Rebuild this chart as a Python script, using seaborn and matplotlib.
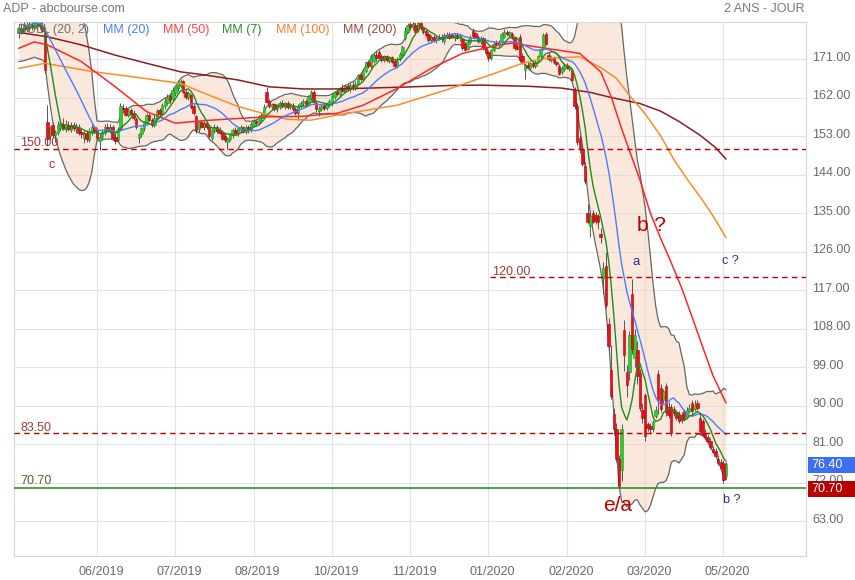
import numpy as np
import pandas as pd
import matplotlib
matplotlib.use("Agg")
import matplotlib.pyplot as plt
import matplotlib.transforms as mtransforms
from matplotlib.patches import Rectangle
import seaborn as sns

# ---------------- data (daily candles) ----------------
opens = [
    177.0, 178.0, 177.5, 179.0, 178.2, 179.0, 178.3, 179.0, 179.3, 178.4,
    177.5, 156.3, 153.0, 155.6, 153.2, 153.8, 154.8, 155.8, 154.6, 155.6,
    154.5, 155.6, 154.6, 155.0, 154.0, 152.6, 153.6, 152.0, 153.8, 155.0,
    154.4, 151.8, 152.8, 153.8, 155.2, 154.2, 155.0, 152.8, 152.0, 154.6,
    159.6, 159.5, 158.0, 159.0, 158.4, 157.0, 152.6, 153.4, 154.8, 156.0,
    157.8, 156.8, 155.6, 157.2, 159.0, 158.2, 160.0, 160.8, 162.4, 161.6,
    163.0, 164.2, 164.8, 165.8, 163.4, 162.0, 162.6, 160.0, 157.6, 154.6,
    156.2, 155.0, 156.0, 155.0, 152.6, 154.2, 155.2, 154.4, 154.0, 153.0,
    151.6, 152.4, 153.2, 154.4, 153.6, 154.4, 155.0, 154.0, 155.0, 154.4,
    155.6, 156.6, 156.0, 157.2, 158.0, 163.2, 161.2, 159.8, 160.4, 159.2,
    159.8, 160.8, 159.8, 160.6, 159.8, 160.2, 159.4, 158.4, 160.0, 160.6,
    161.2, 160.6, 162.0, 163.2, 160.8, 158.8, 159.4, 160.2, 159.6, 160.4,
    160.6, 162.2, 163.4, 162.8, 164.2, 163.6, 164.6, 164.0, 165.0, 164.2,
    165.4, 167.2, 166.4, 168.2, 170.2, 169.4, 170.6, 172.0, 172.6, 171.6,
    170.8, 171.6, 170.6, 171.4, 170.6, 169.4, 171.0, 172.0, 175.8, 177.4,
    179.2, 178.4, 179.0, 177.8, 179.4, 178.4, 177.6, 176.8, 175.4, 176.2,
    175.4, 176.2, 176.2, 175.2, 176.6, 176.8, 176.6, 175.8, 176.6, 175.8,
    175.6, 174.6, 173.4, 175.0, 177.6, 177.0, 176.2, 175.0, 175.8, 173.6,
    172.6, 171.2, 173.0, 174.8, 174.4, 175.2, 176.2, 177.4, 176.6, 176.8,
    175.8, 174.0, 176.2, 171.8, 168.4, 169.6, 169.0, 170.0, 169.4, 170.4,
    171.6, 173.4, 176.8, 172.0, 170.8, 171.2, 170.2, 169.4, 168.0, 168.6,
    169.6, 168.6, 168.4, 163.8, 160.0, 152.6, 150.0, 146.0, 135.0, 132.0,
    135.0, 134.6, 134.4, 130.0, 119.8, 122.5, 109.0, 98.2, 88.0, 84.4,
    77.4, 75.0, 107.6, 97.8, 97.8, 116.0, 101.0, 103.0, 97.5, 89.0,
    92.4, 85.6, 85.2, 84.4, 87.6, 97.4, 94.0, 91.4, 94.6, 89.6,
    89.6, 89.3, 88.4, 88.0, 87.8, 88.6, 87.4, 88.6, 90.5, 89.2,
    90.6, 87.1, 86.3, 83.6, 82.6, 81.7, 79.8, 79.4, 77.6, 76.8, 76.6, 73.5,
]
highs = [
    178.8, 179.5, 179.6, 179.6, 179.6, 179.6, 179.6, 179.6, 179.6, 179.6,
    178.5, 160.2, 155.4, 156.2, 154.5, 156.6, 157.0, 157.2, 156.8, 156.4,
    156.2, 156.3, 156.0, 155.8, 154.6, 154.2, 154.4, 154.8, 155.8, 155.6,
    154.8, 153.4, 154.6, 155.8, 156.0, 155.8, 155.6, 153.6, 155.0, 160.6,
    160.4, 160.0, 159.6, 159.6, 159.0, 157.4, 153.8, 155.2, 156.6, 158.4,
    158.4, 157.2, 157.8, 159.4, 159.6, 160.6, 161.8, 162.8, 163.0, 164.4,
    165.0, 166.0, 166.4, 166.2, 164.0, 163.6, 162.8, 160.6, 158.0, 156.6,
    156.8, 156.6, 156.4, 155.4, 154.8, 155.8, 155.6, 155.0, 154.4, 153.6,
    152.8, 153.8, 154.8, 155.0, 155.4, 155.6, 155.4, 155.6, 155.6, 156.2,
    157.0, 157.0, 157.8, 158.4, 160.4, 164.4, 161.6, 160.8, 160.8, 160.4,
    161.2, 161.4, 161.0, 161.2, 160.8, 160.6, 159.8, 160.4, 161.2, 161.6,
    161.6, 162.6, 163.8, 163.8, 161.2, 160.0, 160.4, 160.6, 161.0, 161.6,
    163.0, 163.6, 164.0, 164.4, 165.2, 165.0, 165.4, 165.4, 165.8, 165.8,
    167.6, 167.8, 168.8, 170.6, 170.8, 172.2, 172.4, 172.8, 173.2, 172.2,
    172.0, 172.0, 171.8, 171.8, 171.0, 171.4, 172.6, 174.2, 178.4, 179.4,
    179.6, 179.6, 179.4, 179.7, 179.7, 178.8, 178.0, 177.4, 176.6, 176.6,
    176.6, 176.8, 176.8, 177.0, 177.2, 177.2, 177.0, 177.0, 177.0, 176.8,
    176.0, 175.0, 175.6, 176.6, 178.2, 177.4, 176.6, 176.4, 176.2, 174.0,
    173.0, 173.4, 175.0, 175.4, 175.4, 177.2, 178.0, 177.8, 177.6, 177.2,
    176.2, 174.4, 176.8, 172.4, 170.0, 170.2, 170.4, 170.4, 170.8, 172.0,
    173.6, 177.0, 177.2, 172.6, 171.8, 171.6, 170.6, 169.8, 169.4, 170.0,
    170.0, 169.6, 168.8, 164.4, 160.6, 153.2, 151.0, 147.0, 137.2, 135.4,
    135.6, 135.2, 134.8, 131.4, 123.5, 126.0, 110.5, 104.1, 89.5, 86.0,
    78.4, 85.6, 110.0, 99.5, 107.5, 119.5, 108.0, 105.0, 98.6, 90.5,
    93.0, 86.2, 85.8, 86.6, 89.8, 98.2, 95.0, 93.8, 95.2, 90.8,
    90.4, 90.0, 89.0, 88.6, 88.4, 89.2, 89.6, 90.4, 91.4, 91.2,
    91.2, 88.0, 86.8, 84.4, 83.2, 82.4, 80.6, 80.0, 78.4, 77.4, 77.2, 76.8,
]
lows = [
    175.8, 176.9, 177.0, 177.4, 177.6, 177.8, 177.9, 178.0, 178.1, 177.2,
    167.8, 150.6, 152.0, 152.6, 151.5, 153.2, 154.2, 154.4, 154.0, 154.2,
    154.0, 154.2, 153.8, 153.2, 152.6, 151.4, 151.6, 151.6, 153.2, 153.8,
    152.0, 149.7, 152.0, 153.2, 154.0, 153.6, 152.0, 151.2, 151.6, 154.2,
    158.6, 157.6, 157.4, 157.8, 156.8, 154.6, 151.3, 152.8, 154.2, 155.6,
    156.4, 155.2, 155.0, 156.8, 157.6, 157.8, 159.4, 160.2, 160.8, 161.0,
    162.4, 163.6, 164.2, 163.0, 161.6, 161.4, 159.4, 158.0, 153.8, 154.0,
    154.8, 154.4, 154.6, 152.6, 152.0, 153.6, 153.8, 153.4, 152.0, 151.6,
    150.0, 151.8, 152.6, 153.2, 153.0, 153.8, 153.6, 153.4, 153.8, 154.0,
    155.0, 155.6, 155.6, 156.6, 157.6, 160.6, 159.6, 159.0, 158.8, 158.6,
    159.4, 159.6, 159.2, 159.4, 159.2, 158.8, 157.8, 156.8, 159.6, 160.0,
    160.0, 160.2, 161.4, 160.6, 158.6, 157.6, 158.8, 159.0, 159.0, 159.8,
    160.0, 161.6, 162.4, 162.2, 163.2, 163.0, 163.6, 163.4, 163.8, 163.8,
    165.0, 165.8, 166.0, 167.8, 168.8, 169.0, 170.0, 170.6, 171.0, 170.4,
    170.2, 170.4, 170.0, 170.0, 168.8, 169.0, 170.6, 171.6, 175.4, 177.0,
    177.8, 177.8, 177.0, 177.4, 177.8, 176.8, 176.2, 175.0, 174.8, 175.0,
    174.8, 175.4, 175.0, 174.6, 175.8, 175.6, 175.8, 175.2, 175.6, 175.2,
    173.0, 172.8, 173.0, 174.6, 176.0, 175.8, 174.8, 174.6, 173.2, 172.0,
    170.6, 170.8, 172.6, 174.0, 173.8, 174.8, 175.8, 176.4, 176.0, 175.6,
    173.2, 173.0, 170.4, 169.8, 166.4, 168.8, 168.4, 168.8, 169.0, 170.0,
    171.2, 173.0, 174.2, 170.6, 170.4, 169.8, 169.4, 167.2, 167.6, 168.2,
    168.6, 168.2, 165.8, 159.4, 151.0, 149.0, 146.0, 141.8, 132.4, 129.4,
    132.6, 132.4, 131.2, 128.0, 116.0, 112.8, 103.0, 91.5, 83.0, 76.8,
    70.7, 72.4, 98.0, 92.0, 96.0, 102.0, 99.0, 95.0, 88.6, 86.0,
    81.8, 84.0, 83.6, 83.8, 87.0, 88.0, 88.4, 90.6, 87.6, 87.0,
    82.8, 87.6, 86.6, 85.8, 86.0, 86.4, 87.0, 88.2, 88.0, 88.8,
    89.0, 83.6, 82.8, 82.2, 81.2, 79.8, 78.8, 77.8, 76.2, 75.0, 71.9, 72.8,
]
closes = [
    178.2, 177.3, 179.2, 178.0, 179.0, 178.4, 179.3, 179.4, 178.6, 177.6,
    168.4, 152.4, 154.8, 153.2, 154.0, 155.6, 156.0, 154.9, 155.8, 154.6,
    155.5, 154.8, 155.2, 153.8, 153.4, 153.6, 152.2, 154.2, 155.0, 154.2,
    152.6, 152.8, 154.0, 155.2, 154.4, 155.0, 152.6, 151.8, 154.6, 160.0,
    159.2, 158.0, 159.0, 158.2, 157.2, 155.0, 153.4, 154.8, 156.2, 157.8,
    156.8, 155.6, 157.2, 158.8, 158.2, 160.2, 161.2, 162.2, 161.4, 163.8,
    164.6, 165.4, 165.8, 163.4, 162.2, 163.0, 159.8, 158.4, 154.4, 156.2,
    155.2, 156.0, 155.0, 153.0, 154.4, 155.2, 154.2, 153.8, 152.4, 152.0,
    152.6, 153.4, 154.4, 153.6, 154.8, 155.2, 154.0, 155.0, 154.4, 155.8,
    156.6, 156.0, 157.4, 158.0, 159.8, 161.0, 160.0, 160.4, 159.2, 160.0,
    160.8, 160.0, 160.6, 159.8, 160.4, 159.2, 158.4, 160.0, 160.8, 161.2,
    160.4, 162.2, 163.2, 161.0, 159.2, 159.6, 160.0, 159.6, 160.6, 161.2,
    162.4, 163.2, 162.8, 164.0, 163.6, 164.6, 164.0, 165.0, 164.2, 165.2,
    167.2, 166.4, 168.4, 170.2, 169.4, 171.6, 172.0, 171.2, 171.4, 170.8,
    171.6, 170.8, 171.4, 170.4, 169.4, 171.0, 172.2, 173.8, 177.6, 179.0,
    178.4, 179.2, 177.4, 179.5, 178.2, 177.2, 176.6, 175.4, 176.2, 175.4,
    176.0, 175.8, 175.6, 176.6, 176.2, 176.0, 176.2, 176.6, 176.0, 176.4,
    173.6, 173.2, 175.0, 176.2, 176.4, 176.2, 175.2, 175.8, 173.6, 172.4,
    171.2, 173.0, 174.6, 174.4, 175.0, 176.8, 177.4, 176.8, 177.2, 175.9,
    173.6, 173.4, 170.8, 170.4, 169.6, 169.2, 170.0, 169.4, 170.4, 171.6,
    173.4, 176.6, 174.6, 171.0, 171.2, 170.2, 169.8, 167.6, 168.8, 169.6,
    169.0, 169.2, 166.1, 160.0, 151.6, 150.0, 146.5, 142.5, 133.0, 134.3,
    133.0, 133.2, 132.8, 129.4, 122.1, 113.5, 104.0, 92.3, 84.4, 77.4,
    71.2, 84.4, 101.8, 94.7, 106.5, 103.3, 106.5, 97.0, 89.4, 87.0,
    82.8, 84.8, 84.4, 86.2, 89.0, 91.3, 89.2, 93.4, 88.4, 87.8,
    83.6, 88.2, 87.0, 86.3, 86.6, 87.0, 89.0, 89.4, 88.6, 90.2,
    89.4, 84.0, 83.2, 82.6, 81.7, 80.2, 79.2, 78.2, 76.6, 75.5, 72.7, 76.4,
]

# indicator values visible before a full 20-day window exists
mm20_head = [177.0, 177.6, 178.2, 178.6, 179.0, 179.2, 179.4, 179.4, 179.3, 179.0,
             178.0, 176.8, 175.6, 174.4, 173.2, 172.0, 170.8, 169.6, 168.4]
boll_lo_head = [170.4, 170.5, 170.6, 170.8, 171.0, 171.2, 171.4, 171.2, 171.0, 170.8,
                170.2, 165.0, 160.5, 156.5, 153.0, 150.5, 148.4, 146.8, 145.2]
boll_up_head = [183.6, 184.7, 185.8, 186.4, 187.0, 187.2, 187.4, 187.6, 187.6, 187.2,
                185.8, 188.6, 190.7, 192.3, 193.4, 193.5, 193.2, 192.4, 191.6]

# long moving averages (bar index, value)
mm50_idx = [0, 6, 11, 24, 37, 49, 60, 71, 84, 96, 109, 122, 132, 145, 158, 170, 184, 189,
            202, 215, 223, 227, 231, 238, 242, 246, 250, 254, 258, 262, 266, 271]
mm50_val = [173.5, 175.0, 174.3, 170.4, 164.5, 158.7, 156.0, 156.6, 157.1, 157.5, 157.6,
            158.3, 160.2, 164.1, 168.8, 172.3, 174.3, 174.7, 173.5, 172.3, 168.0, 162.2,
            154.7, 142.8, 135.0, 129.0, 123.4, 117.5, 110.7, 103.8, 97.0, 90.6]
mm100_idx = [0, 10, 29, 43, 62, 71, 84, 96, 103, 112, 122, 145, 164, 184, 193, 202, 215,
             223, 229, 234, 240, 246, 251, 256, 262, 267, 271]
mm100_val = [168.8, 170.0, 168.0, 166.9, 165.3, 163.0, 159.9, 157.9, 156.9, 156.7, 157.9,
             160.2, 163.8, 168.0, 170.0, 171.2, 171.5, 169.0, 166.5, 162.5, 158.2, 153.0,
             147.5, 143.0, 138.0, 133.4, 129.2]
mm200_idx = [0, 11, 24, 37, 49, 62, 71, 84, 96, 109, 122, 146, 165, 177, 196, 208, 219,
             227, 238, 246, 253, 261, 267, 271]
mm200_val = [177.2, 176.2, 174.3, 171.9, 170.0, 168.0, 167.3, 166.1, 164.5, 164.0, 164.0,
             164.4, 164.8, 164.9, 164.6, 164.2, 163.2, 162.0, 160.6, 158.8, 156.4, 153.2,
             150.3, 147.6]

tick_idx = [30, 60, 90, 120, 150, 180, 210, 240, 270]
tick_labels = ["06/2019", "07/2019", "08/2019", "10/2019", "11/2019",
               "01/2020", "02/2020", "03/2020", "05/2020"]
y_ticks = [63, 72, 81, 90, 99, 108, 117, 126, 135, 144, 153, 162, 171]
dashed_levels = [150.0, 120.0, 83.5]
dashed_labels = ["150.00", "120.00", "83.50"]
support_level = 70.70
last_price = 76.40

# ---------------- style ----------------
sns.set_style("white")
plt.rcParams["font.family"] = ["Liberation Sans", "DejaVu Sans"]

W, H = 855, 580
L, R, T, B = 14, 806, 22, 556
fig = plt.figure(figsize=(W / 100, H / 100), dpi=100)
ax = fig.add_axes([L / W, 1 - B / H, (R - L) / W, (B - T) / H])
XMIN, XMAX = -1.8, 301.65
YMIN, YMAX = 54.82, 179.65
ax.set_xlim(XMIN, XMAX)
ax.set_ylim(YMIN, YMAX)

idx = np.arange(len(closes))
s = pd.Series(closes, dtype=float)
mm7 = s.rolling(7, min_periods=1).mean().to_numpy()
mm20 = s.rolling(20).mean().to_numpy()
sd20 = s.rolling(20).std(ddof=0).to_numpy()
up_b = mm20 + 2 * sd20
lo_b = mm20 - 2 * sd20
nh = len(mm20_head)
mm20[:nh] = mm20_head
up_b[:nh] = boll_up_head
lo_b[:nh] = boll_lo_head

# Bollinger band
ax.fill_between(idx, lo_b, up_b, color="#f8d3bd", alpha=0.5, lw=0, zorder=1)
ax.plot(idx, up_b, color="#666666", lw=0.9, zorder=2)
ax.plot(idx, lo_b, color="#666666", lw=0.9, zorder=2)

# candles
o = np.array(opens); h = np.array(highs); l = np.array(lows); c = np.array(closes)
up = c >= o
ax.vlines(idx, l, h, colors="#555555", lw=0.7, zorder=3)
bb = np.minimum(o, c)
bh = np.maximum(np.abs(c - o), 0.3)
ax.bar(idx[up], bh[up], bottom=bb[up], width=0.95, color="#2fcc2f",
       edgecolor="#1f931f", lw=0.4, zorder=3.5)
ax.bar(idx[~up], bh[~up], bottom=bb[~up], width=0.95, color="#e5121c",
       edgecolor="#b00000", lw=0.4, zorder=3.5)

# moving averages
sns.lineplot(x=mm200_idx, y=mm200_val, ax=ax, color="#8b1e1e", lw=1.1, zorder=4)
sns.lineplot(x=mm100_idx, y=mm100_val, ax=ax, color="#ff8a2a", lw=1.1, zorder=4)
sns.lineplot(x=mm50_idx, y=mm50_val, ax=ax, color="#ff2626", lw=1.1, zorder=4)
sns.lineplot(x=idx, y=mm20, ax=ax, color="#4a7dff", lw=1.0, zorder=4)
sns.lineplot(x=idx, y=mm7, ax=ax, color="#1c8c1c", lw=1.0, zorder=4)

# horizontal levels
dash = (0, (4, 3))
ax.axhline(dashed_levels[0], color="#c00000", lw=1.0, ls=dash, zorder=5)
ax.hlines(dashed_levels[1], 180.6, XMAX, color="#c00000", lw=1.0, ls=dash, zorder=5)
ax.axhline(dashed_levels[2], color="#c00000", lw=1.0, ls=dash, zorder=5)
ax.axhline(support_level, color="#1a8c1a", lw=1.1, zorder=5)
lab_kw = dict(fontsize=9, va="baseline", ha="left", zorder=6)
ax.text(0.5, dashed_levels[0] + 0.6, dashed_labels[0], color="#a33a3a", **lab_kw)
ax.text(181.5, dashed_levels[1] + 0.6, dashed_labels[1], color="#a33a3a", **lab_kw)
ax.text(0.5, dashed_levels[2] + 0.6, dashed_labels[2], color="#a33a3a", **lab_kw)
ax.text(0.5, support_level + 0.9, f"{support_level:.2f}", color="#6a5a30", **lab_kw)

# annotations
ax.text(12.8, 146.2, "c", color="#a52a2a", fontsize=9, ha="center", va="center")
ax.text(242.6, 132.0, "b ?", color="#c00000", fontsize=15, ha="center", va="center")
ax.text(236.5, 123.5, "a", color="#2c2c8c", fontsize=9.5, ha="center", va="center")
ax.text(272.5, 123.8, "c ?", color="#2c2c8c", fontsize=9, ha="center", va="center")
ax.text(229.6, 66.7, "e/a", color="#c00000", fontsize=15, ha="center", va="center")
ax.text(273.3, 67.9, "b ?", color="#2c2c8c", fontsize=9, ha="center", va="center")

# axes cosmetics
ax.set_xticks(tick_idx)
ax.set_xticklabels(tick_labels)
ax.set_yticks(y_ticks)
ax.set_yticklabels([f"{v:.2f}" for v in y_ticks])
ax.yaxis.tick_right()
ax.grid(True, color="#e3e3e3", lw=0.8)
ax.set_axisbelow(True)
for sp in ax.spines.values():
    sp.set_color("#d6d6d6")
    sp.set_linewidth(0.8)
ax.tick_params(axis="y", length=0, pad=4.5, labelsize=9, labelcolor="#6a6a6a",
               right=False, left=False, labelright=True, labelleft=False)
ax.tick_params(axis="x", length=0, pad=7.5, labelsize=9, labelcolor="#6a6a6a")
ax.set_xlabel("")
ax.set_ylabel("")

off_x = mtransforms.ScaledTranslation(0.04, 0, fig.dpi_scale_trans)
for lab in ax.get_xticklabels():
    lab.set_transform(lab.get_transform() + off_x)
off_y = mtransforms.ScaledTranslation(0, 0.03, fig.dpi_scale_trans)
for lab in ax.get_yticklabels():
    lab.set_transform(lab.get_transform() + off_y)

# price boxes on the right axis
bt = mtransforms.blended_transform_factory(ax.transAxes, ax.transData)
box_w = (W - R - 2) / (R - L)
ax.add_patch(Rectangle((1.0025, last_price - 2.2), box_w, 3.7, transform=bt,
                       facecolor="#3f6ef0", edgecolor="none", clip_on=False, zorder=7))
ax.text(1.0065, last_price - 0.35, f"{last_price:.2f}", transform=bt, color="white",
        fontsize=9, va="center", ha="left", zorder=8, clip_on=False)
ax.add_patch(Rectangle((1.0025, support_level - 2.2), box_w, 3.9, transform=bt,
                       facecolor="#b80000", edgecolor="none", clip_on=False, zorder=7))
ax.text(1.0065, support_level - 0.3, f"{support_level:.2f}", transform=bt, color="white",
        fontsize=9, va="center", ha="left", zorder=8, clip_on=False)

# titles and indicator legend row
fig.text(3 / W, 1 - 9 / H, "ADP - abcbourse.com", color="#777777", fontsize=9,
         ha="left", va="center")
fig.text(805 / W, 1 - 9 / H, "2 ANS - JOUR", color="#777777", fontsize=9,
         ha="right", va="center")
legend_items = [("BOLL (20, 2)", "#707070", 18), ("MM (20)", "#4a7dff", 103),
                ("MM (50)", "#ff4444", 163), ("MM (7)", "#2a8f2a", 222),
                ("MM (100)", "#ff8030", 276), ("MM (200)", "#a04848", 343)]
for txt, col, xp in legend_items:
    fig.text(xp / W, 1 - 30 / H, txt, color=col, fontsize=9, ha="left", va="center")

fig.savefig("out.png", dpi=100)
